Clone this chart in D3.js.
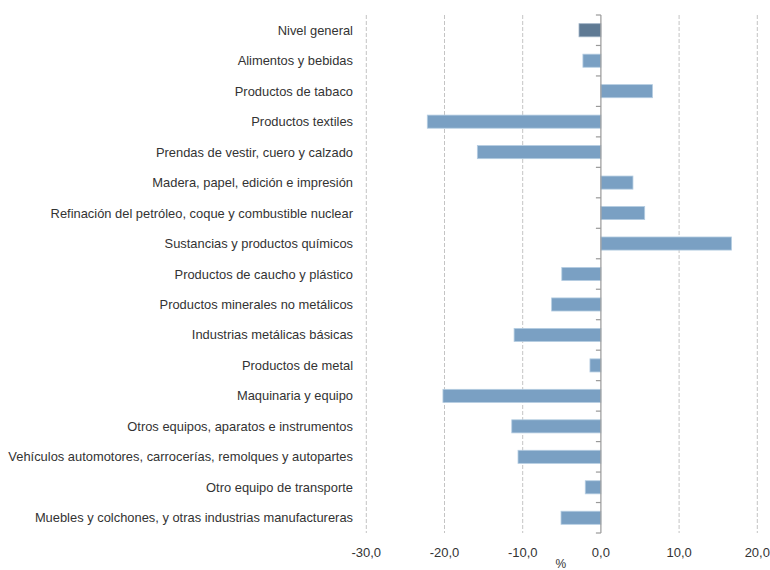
<!DOCTYPE html>
<html><head><meta charset="utf-8">
<script src="https://cdn.jsdelivr.net/npm/d3@7"></script>
<style>body{margin:0;background:#fff}svg{display:block}text{font-family:"Liberation Sans",Arial,sans-serif}</style>
</head><body><svg id="c" width="770" height="570"></svg>
<script>
const categories = ["Nivel general","Alimentos y bebidas","Productos de tabaco","Productos textiles","Prendas de vestir, cuero y calzado","Madera, papel, edición e impresión","Refinación del petróleo, coque y combustible nuclear","Sustancias y productos químicos","Productos de caucho y plástico","Productos minerales no metálicos","Industrias metálicas básicas","Productos de metal","Maquinaria y equipo","Otros equipos, aparatos e instrumentos","Vehículos automotores, carrocerías, remolques y autopartes","Otro equipo de transporte","Muebles y colchones, y otras industrias manufactureras"];
const values = [-2.8,-2.3,6.6,-22.2,-15.8,4.1,5.6,16.7,-5.0,-6.3,-11.1,-1.4,-20.2,-11.4,-10.6,-2.0,-5.1];
const xTicks = [-30,-20,-10,0,10,20];
const axisTitle = "%";

const svg = d3.select("#c");
const x = d3.scaleLinear().domain([-30,20]).range([366.3,757.3]);
const y = d3.scaleBand().domain(categories).range([15,533]).paddingInner(0.57).paddingOuter(0.285);
const yb = d3.scaleBand().domain(categories).range([15,533]);

svg.append("g").selectAll("line").data(xTicks.filter(d=>d!==0)).join("line")
  .attr("x1",d=>x(d)).attr("x2",d=>x(d)).attr("y1",15).attr("y2",533)
  .attr("stroke","#c4c4c4").attr("stroke-width",1).attr("stroke-dasharray","4,2");

svg.append("g").selectAll("rect").data(values).join("rect")
  .attr("x",(d)=>x(Math.min(0,d)))
  .attr("width",d=>Math.abs(x(d)-x(0)))
  .attr("y",(d,i)=>y(categories[i]))
  .attr("height",y.bandwidth())
  .attr("fill",(d,i)=>i===0?"#5f7a94":"#7aa0c3")
  .attr("stroke",(d,i)=>i===0?"#9fb2c5":"#b5cde2").attr("stroke-width",0.8);

const ya = svg.append("g");
ya.append("line").attr("x1",x(0)).attr("x2",x(0)).attr("y1",15).attr("y2",533).attr("stroke","#999").attr("stroke-width",1.2);
ya.selectAll("line.t").data(d3.range(categories.length+1)).join("line").attr("class","t")
  .attr("x1",x(0)-5).attr("x2",x(0))
  .attr("y1",i=>i<categories.length?yb(categories[i]):533)
  .attr("y2",i=>i<categories.length?yb(categories[i]):533)
  .attr("stroke","#999").attr("stroke-width",1.2);

svg.append("g").selectAll("text").data(categories).join("text")
  .attr("x",353).attr("y",d=>yb(d)+yb.bandwidth()/2).attr("dy","0.35em")
  .attr("text-anchor","end").attr("font-size",12.9).attr("fill","#333").text(d=>d);

svg.append("g").selectAll("text").data(xTicks).join("text")
  .attr("x",d=>x(d)).attr("y",552).attr("dy","0.35em").attr("text-anchor","middle")
  .attr("font-size",13).attr("fill","#333").text(d=>d.toFixed(1).replace(".",","));

svg.append("text").attr("x",x(0)-40).attr("y",568).attr("text-anchor","middle")
  .attr("font-size",12).attr("fill","#333").text(axisTitle);
</script></body></html>
